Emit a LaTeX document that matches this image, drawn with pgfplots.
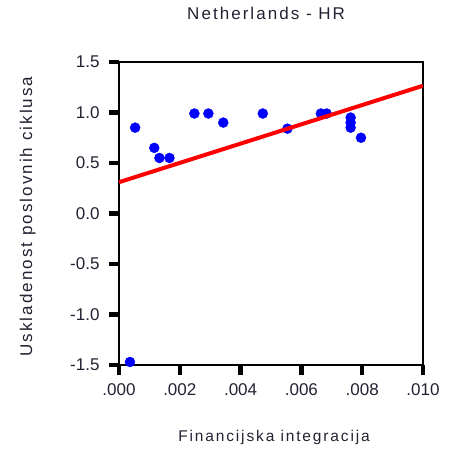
\documentclass[border=0pt]{standalone}
\usepackage{fontspec}
\setmainfont{Liberation Sans}
\usepackage{pgfplots}
\pgfplotsset{compat=1.18}

\definecolor{txt}{HTML}{222233}

\begin{document}
\begin{tikzpicture}
\begin{axis}[
    at={(0,0)}, anchor=south west,
    scale only axis, width=304pt, height=303pt,
    xmin=0, xmax=0.010, ymin=-1.5, ymax=1.5,
    xtick={0,0.002,0.004,0.006,0.008,0.010},
    xticklabels={.000,.002,.004,.006,.008,.010},
    scaled x ticks=false,
    ytick={-1.5,-1,-0.5,0,0.5,1,1.5},
    yticklabel style={xshift=-6pt, /pgf/number format/.cd, fixed, fixed zerofill, precision=1},
    /pgf/number format/assume math mode=true,
    tick align=outside, xtick pos=bottom, ytick pos=left,
    major tick length=10pt,
    every tick/.style={black, line width=4.5pt},
    axis line style={black, line width=1.2pt},
    tick label style={font=\fontsize{17}{19}\selectfont, text=txt},
    xticklabel style={yshift=-5pt},
    title={Netherlands - HR},
    title style={at={(axis description cs:0.484,1.139)}, anchor=center,
        font=\fontsize{17}{19}\selectfont\addfontfeatures{LetterSpace=12}, text=txt},
    xlabel={Financijska integracija},
    xlabel style={at={(axis description cs:0.51,-0.238)}, anchor=center,
        font=\fontsize{15.5}{17}\selectfont\addfontfeatures{LetterSpace=12}, text=txt},
    ylabel={Uskladenost poslovnih ciklusa},
    ylabel style={at={(axis description cs:-0.30,0.49)}, anchor=center, rotate=0,
        font=\fontsize{17}{19}\selectfont\addfontfeatures{LetterSpace=12}, text=txt},
    clip mode=individual,
]
\addplot[only marks, mark=*, mark size=5pt, blue, mark options={draw=blue, fill=blue}] coordinates {
    (0.00053, 0.85)
    (0.00116, 0.65)
    (0.00133, 0.55)
    (0.00166, 0.55)
    (0.00248, 0.99)
    (0.00294, 0.99)
    (0.00343, 0.90)
    (0.00473, 0.99)
    (0.00554, 0.84)
    (0.00664, 0.99)
    (0.00683, 0.99)
    (0.00762, 0.95)
    (0.00762, 0.90)
    (0.00762, 0.85)
    (0.00796, 0.75)
    (0.00036, -1.47)
};
\addplot[red, line width=4pt] coordinates {
    (0, 0.31)
    (0.010, 1.265)
};
\end{axis}
\useasboundingbox (-119pt,-88pt) rectangle (338pt,365pt);
\end{tikzpicture}
\end{document}
